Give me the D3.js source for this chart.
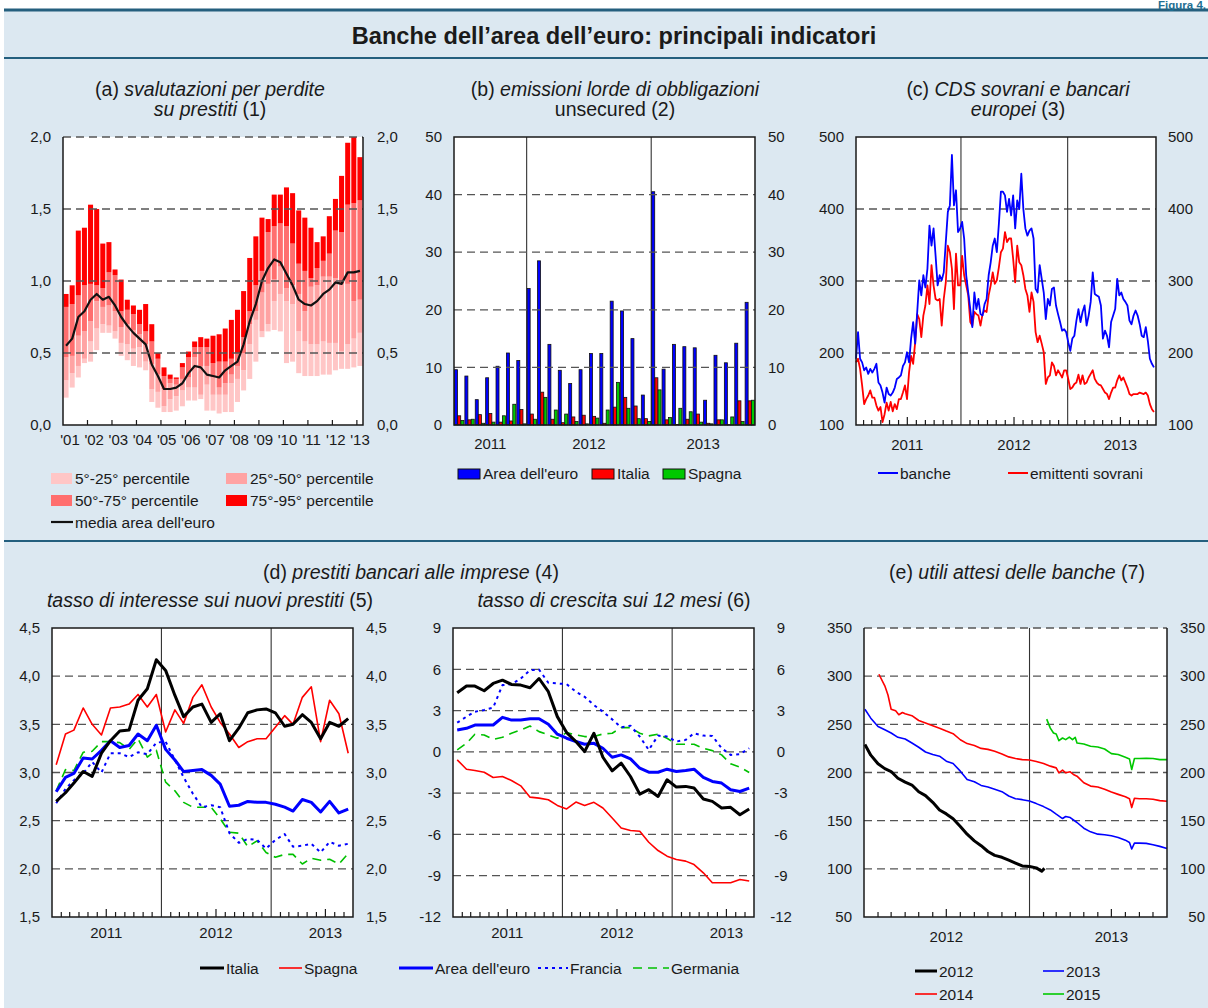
<!DOCTYPE html>
<html>
<head>
<meta charset="utf-8">
<title>Banche dell'area dell'euro: principali indicatori</title>
<script src="https://cdn.jsdelivr.net/npm/d3@7"></script>
<style>
  body { margin: 0; background: #fff; }
  svg { display: block; font-family: "Liberation Sans", Arial, Helvetica, sans-serif; }
</style>
</head>
<body>
<svg id="chart" width="1208" height="1008"></svg>
<script>
// ---------- (a) svalutazioni per perdite su prestiti: quarterly 2001Q1-2013Q1 ----------
const aYearLabels = ["'01", "'02", "'03", "'04", "'05", "'06", "'07", "'08", "'09", "'10", "'11", "'12", "'13"];
const aP5 = [0.19, 0.26, 0.33, 0.43, 0.44, 0.52, 0.64, 0.64, 0.60, 0.48, 0.45, 0.41, 0.40, 0.38, 0.16, 0.12, 0.09, 0.09, 0.10, 0.13, 0.17, 0.17, 0.18, 0.10, 0.10, 0.08, 0.09, 0.09, 0.16, 0.24, 0.32, 0.44, 0.61, 0.65, 0.66, 0.65, 0.43, 0.44, 0.36, 0.34, 0.34, 0.34, 0.35, 0.35, 0.38, 0.39, 0.39, 0.40, 0.41];
const aP25 = [0.31, 0.36, 0.41, 0.46, 0.58, 0.67, 0.70, 0.69, 0.65, 0.57, 0.56, 0.53, 0.54, 0.44, 0.25, 0.23, 0.13, 0.18, 0.20, 0.24, 0.26, 0.26, 0.21, 0.28, 0.21, 0.21, 0.21, 0.29, 0.32, 0.38, 0.56, 0.73, 0.65, 0.70, 0.86, 0.91, 0.86, 0.84, 0.65, 0.58, 0.56, 0.56, 0.58, 0.57, 0.57, 0.51, 0.56, 0.60, 0.64];
const aP50 = [0.47, 0.48, 0.62, 0.65, 0.72, 0.86, 0.82, 0.83, 0.79, 0.68, 0.70, 0.66, 0.63, 0.56, 0.42, 0.35, 0.25, 0.29, 0.28, 0.32, 0.33, 0.47, 0.41, 0.41, 0.33, 0.26, 0.29, 0.35, 0.41, 0.50, 0.70, 0.79, 0.92, 0.98, 1.01, 1.10, 0.95, 0.97, 0.91, 0.79, 0.96, 0.97, 1.03, 1.03, 1.02, 0.98, 0.98, 0.86, 0.87];
const aP75 = [0.82, 0.84, 0.90, 0.97, 0.98, 0.97, 0.95, 1.06, 1.04, 0.79, 0.80, 0.77, 0.70, 0.65, 0.58, 0.46, 0.34, 0.32, 0.32, 0.40, 0.47, 0.54, 0.54, 0.54, 0.43, 0.44, 0.44, 0.46, 0.50, 0.61, 0.79, 0.97, 1.07, 1.34, 1.38, 1.40, 1.38, 1.26, 1.12, 1.07, 1.02, 1.09, 1.14, 1.19, 1.35, 1.34, 1.53, 1.54, 1.56];
const aP95 = [0.91, 0.97, 1.35, 1.37, 1.53, 1.50, 1.26, 1.27, 1.08, 1.01, 0.87, 0.83, 0.80, 0.84, 0.70, 0.50, 0.40, 0.35, 0.33, 0.43, 0.51, 0.58, 0.61, 0.60, 0.62, 0.63, 0.67, 0.73, 0.80, 0.93, 1.16, 1.31, 1.44, 1.43, 1.60, 1.60, 1.65, 1.61, 1.49, 1.44, 1.37, 1.27, 1.31, 1.45, 1.57, 1.73, 1.96, 2.00, 1.86];
const aMean = [0.55, 0.60, 0.75, 0.79, 0.87, 0.91, 0.87, 0.89, 0.83, 0.75, 0.69, 0.64, 0.60, 0.56, 0.42, 0.34, 0.25, 0.25, 0.26, 0.29, 0.36, 0.41, 0.40, 0.35, 0.34, 0.33, 0.38, 0.41, 0.44, 0.56, 0.72, 0.84, 1.00, 1.09, 1.15, 1.13, 1.05, 0.97, 0.87, 0.84, 0.83, 0.86, 0.91, 0.94, 0.99, 0.98, 1.06, 1.06, 1.07];

// ---------- (b) emissioni lorde di obbligazioni unsecured: monthly ----------
const bMonths = ["2011-06", "2011-07", "2011-08", "2011-09", "2011-10", "2011-11", "2011-12",
  "2012-01", "2012-02", "2012-03", "2012-04", "2012-05", "2012-06", "2012-07", "2012-08", "2012-09", "2012-10", "2012-11", "2012-12",
  "2013-01", "2013-02", "2013-03", "2013-04", "2013-05", "2013-06", "2013-07", "2013-08", "2013-09", "2013-10"];
const bArea = [9.6, 8.5, 4.4, 8.2, 10.2, 12.5, 11.2, 23.7, 28.5, 14.0, 9.5, 7.2, 9.6, 12.4, 12.4, 21.5, 19.8, 15.0, 5.2, 40.5, 9.7, 14.0, 13.6, 13.4, 4.3, 12.1, 10.8, 14.2, 21.3];
const bItalia = [1.6, 0.9, 1.8, 2.0, 0.5, 0.7, 2.7, 1.9, 5.7, 1.0, 0.4, 1.4, 1.7, 1.5, 0.3, 3.1, 4.8, 3.3, 1.1, 8.2, 0.9, 0.1, 1.0, 1.9, 0.3, 0.9, 0.05, 4.2, 4.2];
const bSpagna = [0.8, 1.0, 0.3, 0.5, 1.6, 3.6, 0.2, 1.0, 4.8, 2.6, 1.9, 0.6, 0.2, 1.2, 2.6, 7.4, 2.9, 1.1, 0.6, 6.1, 1.3, 2.9, 2.3, 0.5, 0.2, 0.9, 1.4, 0.6, 4.3];

// ---------- (c) CDS sovrani e bancari europei: weekly from 6 Jan 2011 ----------
const cStart = "2011-01-06";
const cBanche = [192, 229, 192, 187, 176, 180, 171, 178, 173, 178,
  185, 159, 155, 145, 131, 152, 143, 141, 145, 152,
  164, 166, 169, 182, 187, 201, 187, 220, 243, 213,
  257, 301, 280, 308, 291, 317, 377, 349, 373, 335,
  294, 308, 301, 312, 354, 396, 405, 475, 405, 426,
  368, 373, 382, 359, 308, 284, 261, 236, 284, 261,
  275, 254, 252, 268, 275, 308, 326, 349, 359, 340,
  379, 424, 424, 419, 396, 414, 391, 419, 373, 412,
  400, 449, 400, 373, 363, 370, 373, 359, 289, 284,
  322, 303, 284, 247, 275, 266, 289, 291, 266, 254,
  243, 231, 233, 229, 215, 203, 220, 224, 245, 261,
  243, 257, 266, 238, 252, 271, 312, 282, 280, 278,
  266, 220, 231, 224, 208, 243, 252, 261, 303, 280,
  284, 275, 271, 266, 245, 240, 252, 259, 252, 240,
  224, 222, 236, 217, 192, 185, 180];
const cSovrani = [187, 192, 178, 155, 129, 136, 141, 148, 138, 138,
  127, 120, 125, 104, 115, 131, 120, 132, 119, 129,
  122, 136, 136, 145, 155, 136, 173, 196, 185, 215,
  254, 247, 222, 252, 266, 294, 268, 322, 294, 275,
  273, 275, 238, 275, 298, 349, 340, 317, 261, 338,
  294, 294, 335, 308, 294, 280, 243, 238, 257, 254,
  252, 238, 254, 259, 257, 280, 294, 312, 296, 301,
  319, 340, 345, 368, 354, 359, 359, 331, 298, 349,
  326, 322, 308, 289, 280, 257, 284, 271, 229, 215,
  224, 213, 201, 157, 166, 169, 187, 182, 169, 176,
  171, 166, 176, 176, 164, 150, 152, 157, 159, 170,
  157, 169, 157, 159, 166, 171, 176, 164, 159, 156,
  155, 150, 145, 143, 136, 145, 152, 152, 162, 169,
  162, 166, 159, 152, 143, 141, 143, 143, 143, 145,
  144, 143, 145, 141, 129, 122, 118];

// ---------- (d) prestiti bancari alle imprese: monthly Jan 2011 - Sep 2013 ----------
const dMonths = ["2011-01", "2011-02", "2011-03", "2011-04", "2011-05", "2011-06", "2011-07", "2011-08", "2011-09", "2011-10", "2011-11", "2011-12",
  "2012-01", "2012-02", "2012-03", "2012-04", "2012-05", "2012-06", "2012-07", "2012-08", "2012-09", "2012-10", "2012-11", "2012-12",
  "2013-01", "2013-02", "2013-03", "2013-04", "2013-05", "2013-06", "2013-07", "2013-08", "2013-09"];
const rateItalia = [2.70, 2.79, 2.89, 3.01, 2.96, 3.20, 3.33, 3.43, 3.44, 3.75, 3.87, 4.17, 4.06, 3.80, 3.58, 3.68, 3.71, 3.52, 3.61, 3.33, 3.46, 3.62, 3.65, 3.66, 3.62, 3.48, 3.50, 3.60, 3.52, 3.35, 3.52, 3.48, 3.56];
const rateSpagna = [3.08, 3.40, 3.44, 3.67, 3.50, 3.39, 3.67, 3.68, 3.71, 3.81, 3.68, 3.81, 3.42, 3.65, 3.51, 3.78, 3.91, 3.68, 3.52, 3.40, 3.26, 3.32, 3.35, 3.35, 3.47, 3.59, 3.50, 3.78, 3.89, 3.32, 3.75, 3.61, 3.20];
const rateArea = [2.80, 2.95, 2.99, 3.15, 3.14, 3.23, 3.33, 3.26, 3.28, 3.40, 3.33, 3.49, 3.24, 3.13, 3.01, 3.02, 3.03, 2.97, 2.88, 2.65, 2.66, 2.70, 2.69, 2.69, 2.67, 2.64, 2.60, 2.72, 2.69, 2.59, 2.70, 2.58, 2.62];
const rateFrancia = [2.68, 2.83, 2.92, 2.99, 3.11, 3.00, 3.20, 3.20, 3.16, 3.21, 3.19, 3.31, 3.32, 3.13, 2.95, 2.78, 2.64, 2.66, 2.64, 2.37, 2.27, 2.31, 2.30, 2.21, 2.30, 2.36, 2.23, 2.24, 2.26, 2.17, 2.28, 2.24, 2.26];
const rateGermania = [2.81, 3.03, 3.02, 3.21, 3.22, 3.32, 3.32, 3.31, 3.24, 3.35, 3.16, 3.23, 2.90, 2.81, 2.69, 2.64, 2.64, 2.64, 2.52, 2.38, 2.37, 2.23, 2.29, 2.17, 2.12, 2.15, 2.15, 2.05, 2.11, 2.09, 2.10, 2.05, 2.16];
const growItalia = [4.29, 4.78, 4.78, 4.44, 4.97, 5.21, 4.90, 4.85, 4.66, 5.33, 4.37, 2.56, 1.40, 0.75, 0.02, 1.35, -0.39, -1.38, -0.82, -1.79, -3.07, -2.75, -3.24, -2.03, -2.56, -2.51, -2.63, -3.43, -3.60, -4.08, -4.03, -4.57, -4.15];
const growSpagna = [-0.58, -1.26, -1.35, -1.48, -1.86, -1.79, -2.08, -2.47, -3.29, -3.36, -3.48, -3.89, -4.15, -3.65, -3.89, -3.67, -4.08, -4.81, -5.53, -5.72, -5.77, -6.57, -7.17, -7.58, -7.82, -7.94, -8.19, -8.79, -9.51, -9.51, -9.51, -9.27, -9.39];
const growArea = [1.59, 1.71, 1.95, 1.95, 1.95, 2.51, 2.31, 2.31, 2.41, 2.41, 2.00, 1.28, 0.99, 0.75, 0.55, 0.62, 0.26, -0.39, -0.22, -0.51, -1.19, -1.48, -1.48, -1.26, -1.43, -1.35, -1.26, -1.86, -2.15, -2.27, -2.75, -2.88, -2.63];
const growFrancia = [2.12, 2.56, 2.92, 3.04, 3.21, 4.85, 4.92, 5.33, 5.93, 5.98, 5.02, 4.97, 4.92, 4.37, 4.00, 3.40, 2.92, 2.36, 1.78, 1.90, 1.11, 0.14, 1.18, 1.11, 0.75, 0.87, 1.35, 1.18, 1.16, 0.26, -0.22, -0.17, 0.26];
const growGermania = [0.14, 0.62, 1.28, 1.23, 0.91, 1.06, 1.35, 1.59, 1.88, 1.47, 1.23, 0.99, 1.40, 1.23, 1.11, 1.11, 1.30, 1.35, 1.76, 1.76, 1.35, 1.16, 1.28, 0.99, 0.55, 0.55, 0.55, 0.26, 0.09, -0.22, -0.87, -1.11, -1.50];

// ---------- (e) utili attesi delle banche: forecasts for 2012-2015 ----------
const e2012 = [["2012-01-03", 229], ["2012-01-16", 218], ["2012-02-01", 209], ["2012-02-16", 204], ["2012-03-01", 201], ["2012-03-16", 194], ["2012-04-01", 190], ["2012-04-16", 187], ["2012-05-01", 180], ["2012-05-16", 176], ["2012-06-01", 169], ["2012-06-16", 161], ["2012-07-01", 157], ["2012-07-16", 152], ["2012-08-01", 144], ["2012-08-16", 136], ["2012-09-01", 129], ["2012-09-16", 124], ["2012-10-01", 118], ["2012-10-16", 114], ["2012-11-01", 112], ["2012-11-16", 109], ["2012-12-01", 106], ["2012-12-16", 103], ["2013-01-01", 102.5], ["2013-01-16", 101], ["2013-01-28", 97.5], ["2013-02-03", 100.5]];
const e2013 = [["2012-01-03", 265.7], ["2012-01-16", 256.4], ["2012-02-01", 247.8], ["2012-02-16", 244.4], ["2012-03-01", 241], ["2012-03-16", 236.5], ["2012-04-01", 234.8], ["2012-04-16", 230.6], ["2012-05-01", 226.2], ["2012-05-16", 221.3], ["2012-06-01", 218.6], ["2012-06-16", 216.9], ["2012-07-01", 211.7], ["2012-07-16", 209.3], ["2012-08-01", 201.4], ["2012-08-16", 192.8], ["2012-09-01", 190.4], ["2012-09-16", 186.6], ["2012-10-01", 184.9], ["2012-10-16", 182.5], ["2012-11-01", 180.1], ["2012-11-16", 175.6], ["2012-12-01", 172.8], ["2012-12-16", 171.8], ["2013-01-01", 170.4], ["2013-01-16", 167.7], ["2013-02-01", 164.6], ["2013-02-16", 161.1], ["2013-03-01", 156.7], ["2013-03-15", 152.2], ["2013-03-22", 154.3], ["2013-04-01", 153.2], ["2013-04-16", 148.1], ["2013-05-01", 142.2], ["2013-05-16", 138.4], ["2013-06-01", 136], ["2013-06-16", 135.4], ["2013-07-01", 134.3], ["2013-07-16", 132.6], ["2013-08-01", 129.8], ["2013-08-10", 127.4], ["2013-08-15", 120.6], ["2013-08-21", 126.7], ["2013-09-01", 126.7], ["2013-09-16", 126.4], ["2013-10-01", 125], ["2013-10-16", 123.3], ["2013-11-01", 121.2]];
const e2014 = [["2012-02-03", 302], ["2012-02-16", 290], ["2012-02-23", 280.5], ["2012-03-01", 265.7], ["2012-03-11", 264], ["2012-03-18", 260], ["2012-03-26", 262.3], ["2012-04-01", 261], ["2012-04-16", 259], ["2012-05-01", 254], ["2012-05-16", 251.3], ["2012-06-01", 248.5], ["2012-06-16", 246], ["2012-07-01", 243], ["2012-07-16", 240.3], ["2012-08-01", 234], ["2012-08-16", 230], ["2012-09-01", 228], ["2012-09-16", 225], ["2012-10-01", 224], ["2012-10-16", 222], ["2012-11-01", 219.3], ["2012-11-16", 216.2], ["2012-12-01", 214.5], ["2012-12-16", 213.4], ["2013-01-01", 213], ["2013-01-16", 211.4], ["2013-02-01", 209.3], ["2013-02-16", 206.6], ["2013-03-01", 204.8], ["2013-03-07", 199.7], ["2013-03-15", 202.4], ["2013-03-22", 199.7], ["2013-04-01", 200.7], ["2013-04-08", 198], ["2013-04-16", 196.2], ["2013-05-01", 189.4], ["2013-05-16", 185.9], ["2013-06-01", 184.9], ["2013-06-16", 182.5], ["2013-07-01", 179.7], ["2013-07-16", 177.3], ["2013-08-01", 174.9], ["2013-08-10", 172.8], ["2013-08-15", 163.6], ["2013-08-21", 173.2], ["2013-09-01", 172.8], ["2013-09-16", 172.8], ["2013-10-01", 172.2], ["2013-10-16", 170.8], ["2013-11-01", 170.1]];
const e2015 = [["2013-02-08", 255.4], ["2013-02-16", 246.1], ["2013-02-23", 241], ["2013-03-01", 240], ["2013-03-07", 233], ["2013-03-15", 235.8], ["2013-03-22", 234.1], ["2013-03-30", 236.8], ["2013-04-06", 234.1], ["2013-04-12", 236.5], ["2013-04-16", 230.6], ["2013-05-01", 229.6], ["2013-05-16", 227.2], ["2013-06-01", 226.5], ["2013-06-16", 224.4], ["2013-07-01", 219.6], ["2013-07-16", 218.6], ["2013-08-01", 215.8], ["2013-08-10", 214.1], ["2013-08-15", 203.1], ["2013-08-21", 214.5], ["2013-09-01", 214.5], ["2013-09-16", 214.8], ["2013-10-01", 214.5], ["2013-10-16", 213.4], ["2013-11-01", 213.4]];

// ---------- setup ----------
const svg = d3.select("#chart");
const ink = "#1a1a1a";
const teal = "#245f7e";
const parseDay = d3.timeParse("%Y-%m-%d");
const parseMonth = d3.timeParse("%Y-%m");
const itLocale = d3.formatLocale({ decimal: ",", thousands: ".", grouping: [3], currency: ["€", ""], minus: "-" });
const fmtDec = itLocale.format(".1f");
const fmtInt = itLocale.format("d");

// page background, rules, title
svg.append("rect").attr("x", 4).attr("y", 10).attr("width", 1204).attr("height", 998).attr("fill", "#dce8f1");
[[10, 3], [58, 2], [541, 2]].forEach(([y, w]) =>
  svg.append("line").attr("x1", 4).attr("x2", 1208).attr("y1", y).attr("y2", y)
    .attr("stroke", teal).attr("stroke-width", w));
svg.append("text").attr("x", 1206).attr("y", 8.5).attr("text-anchor", "end")
  .attr("font-size", 11.5).attr("font-weight", "bold").attr("fill", "#1f6f93").text("Figura 4.");
svg.append("text").attr("x", 614).attr("y", 44).attr("text-anchor", "middle")
  .attr("font-size", 23.6).attr("font-weight", "bold").attr("fill", ink)
  .text("Banche dell’area dell’euro: principali indicatori");

function title(x, y, parts) {
  const t = svg.append("text").attr("x", x).attr("y", y).attr("text-anchor", "middle")
    .attr("font-size", 19.5).attr("fill", ink);
  parts.forEach(([s, italic]) => t.append("tspan").attr("font-style", italic ? "italic" : null).text(s));
}

// white plot box, dashed grid, frame and both value axes
function panel(p) {
  const root = svg.append("g");
  root.append("rect").attr("x", p.x0).attr("y", p.y0)
    .attr("width", p.x1 - p.x0).attr("height", p.y1 - p.y0).attr("fill", "#fff");
  const under = root.append("g"), marks = root.append("g"), over = root.append("g");
  const y = d3.scaleLinear().domain(p.domain).range([p.y1, p.y0]);
  const ticks = d3.range(p.domain[0], p.domain[1] + p.step / 2, p.step);
  const gridVals = ticks.filter(v => v > p.domain[0] && (p.dashedTop || v < p.domain[1] - 1e-9));
  (p.gridOnTop ? over : under).selectAll(null).data(gridVals).join("line")
    .attr("x1", p.x0).attr("x2", p.x1).attr("y1", d => y(d)).attr("y2", d => y(d))
    .attr("stroke", "#555").attr("stroke-width", 1.3).attr("stroke-dasharray", "8,5");
  const framePath = `M${p.x0},${p.y0}V${p.y1}H${p.x1}V${p.y0}` + (p.dashedTop ? "" : "Z");
  root.append("path").attr("d", framePath).attr("fill", "none")
    .attr("stroke", ink).attr("stroke-width", 1.5);
  const lab = root.append("g").attr("font-size", 15).attr("fill", ink);
  lab.selectAll(null).data(ticks).join("text")
    .attr("x", p.x0 - 12).attr("y", d => y(d)).attr("dy", "0.35em")
    .attr("text-anchor", "end").text(p.fmt);
  lab.selectAll(null).data(ticks).join("text")
    .attr("x", p.rightX).attr("y", d => y(d)).attr("dy", "0.35em")
    .attr("text-anchor", p.rightAnchor || "start").text(p.fmt);
  return { root, under, marks, over, y };
}

function yearLines(g, xs, p) {
  g.selectAll(null).data(xs).join("line")
    .attr("x1", d => d).attr("x2", d => d).attr("y1", p.y0).attr("y2", p.y1)
    .attr("stroke", "#333").attr("stroke-width", 1.1);
}

function monthTicks(g, x, p) {
  const [from, to] = x.domain();
  const months = d3.timeMonth.range(from, to).filter(d => d > from && d.getMonth() !== 0);
  g.selectAll(null).data(months).join("line")
    .attr("x1", d => x(d)).attr("x2", d => x(d))
    .attr("y1", p.y1).attr("y2", d => p.y1 - (d.getMonth() === 6 ? 8 : 5))
    .attr("stroke", ink).attr("stroke-width", 1.2);
}

function xLabels(items, y) {
  svg.append("g").attr("font-size", 15).attr("fill", ink).attr("text-anchor", "middle")
    .selectAll("text").data(items).join("text")
    .attr("x", d => d.x).attr("y", y).text(d => d.label);
}

function lineLegend(x, y, w, style, label) {
  svg.append("line").attr("x1", x).attr("x2", x + w).attr("y1", y).attr("y2", y)
    .attr("stroke", style.color).attr("stroke-width", style.width)
    .attr("stroke-dasharray", style.dash || null);
  svg.append("text").attr("x", x + w + 2).attr("y", y + 5.5).attr("font-size", 15.5)
    .attr("fill", ink).text(label);
}

function boxLegend(x, y, w, h, color, label, stroke) {
  svg.append("rect").attr("x", x).attr("y", y).attr("width", w).attr("height", h)
    .attr("fill", color).attr("stroke", stroke || "none").attr("stroke-width", 1);
  svg.append("text").attr("x", x + w + 3).attr("y", y + h).attr("font-size", 15.5)
    .attr("fill", ink).text(label);
}

// ---------- panel titles ----------
title(210, 96, [["(a) ", false], ["svalutazioni per perdite", true]]);
title(210, 116, [["su prestiti", true], [" (1)", false]]);
title(615, 96, [["(b) ", false], ["emissioni lorde di obbligazioni", true]]);
title(615, 116, [["unsecured (2)", false]]);
title(1018, 96, [["(c) ", false], ["CDS sovrani e bancari", true]]);
title(1018, 116, [["europei", true], [" (3)", false]]);
title(411, 579, [["(d) ", false], ["prestiti bancari alle imprese", true], [" (4)", false]]);
title(210, 607, [["tasso di interesse sui nuovi prestiti", true], [" (5)", false]]);
title(614, 607, [["tasso di crescita sui 12 mesi", true], [" (6)", false]]);
title(1017, 579, [["(e) ", false], ["utili attesi delle banche", true], [" (7)", false]]);

// ---------- (a) ----------
const pa = { x0: 63, x1: 363, y0: 137, y1: 425, domain: [0, 2], step: 0.5, fmt: fmtDec, rightX: 377, dashedTop: true, gridOnTop: true };
const A = panel(pa);
const xa = d3.scaleBand().domain(d3.range(aP95.length)).range([pa.x0, pa.x1]).paddingInner(0.18).paddingOuter(0.09);
const aBands = [
  { lo: aP5, hi: aP25, color: "#ffc6c6", label: "5°-25° percentile" },
  { lo: aP25, hi: aP50, color: "#ffa3a3", label: "25°-50° percentile" },
  { lo: aP50, hi: aP75, color: "#ff6e6e", label: "50°-75° percentile" },
  { lo: aP75, hi: aP95, color: "#ff0000", label: "75°-95° percentile" }
];
aBands.forEach(b => A.marks.append("g").selectAll("rect").data(b.lo).join("rect")
  .attr("x", (d, i) => xa(i)).attr("width", xa.bandwidth())
  .attr("y", (d, i) => A.y(b.hi[i])).attr("height", (d, i) => A.y(d) - A.y(b.hi[i]))
  .attr("fill", b.color));
A.marks.append("path").datum(aMean)
  .attr("d", d3.line().x((d, i) => xa(i) + xa.bandwidth() / 2).y(d => A.y(d)))
  .attr("fill", "none").attr("stroke", "#111").attr("stroke-width", 2.2).attr("stroke-linejoin", "round");
const aYearStarts = d3.range(4, aP95.length, 4);
A.over.selectAll(null).data(aYearStarts).join("line")
  .attr("x1", i => xa(i) - xa.step() * 0.09).attr("x2", i => xa(i) - xa.step() * 0.09)
  .attr("y1", pa.y1).attr("y2", pa.y1 - 5).attr("stroke", ink).attr("stroke-width", 1.2);
const xaLab = d3.scalePoint().domain(aYearLabels).range([70, 360]);
xLabels(aYearLabels.map(l => ({ x: xaLab(l), label: l })), 445);
boxLegend(51, 473, 21, 11, aBands[0].color, aBands[0].label);
boxLegend(226, 473, 21, 11, aBands[1].color, aBands[1].label);
boxLegend(51, 495, 21, 11, aBands[2].color, aBands[2].label);
boxLegend(226, 495, 21, 11, aBands[3].color, aBands[3].label);
lineLegend(51, 522, 22, { color: "#111", width: 2.2 }, "media area dell'euro");

// ---------- (b) ----------
const pb = { x0: 454, x1: 755, y0: 137, y1: 425, domain: [0, 50], step: 10, fmt: fmtInt, rightX: 768, gridOnTop: true };
const B = panel(pb);
const xb = d3.scaleBand().domain(bMonths).range([pb.x0, pb.x1]);
const bSeries = [
  { key: "area", values: bArea, color: "#0000ff", label: "Area dell'euro" },
  { key: "italia", values: bItalia, color: "#ff0000", label: "Italia" },
  { key: "spagna", values: bSpagna, color: "#00c800", label: "Spagna" }
];
const xbSub = d3.scaleBand().domain(bSeries.map(s => s.key)).range([0.5, xb.bandwidth() - 0.5]).paddingInner(0.06);
bSeries.forEach(s => B.marks.append("g").selectAll("rect").data(s.values).join("rect")
  .attr("x", (d, i) => xb(bMonths[i]) + xbSub(s.key)).attr("width", xbSub.bandwidth())
  .attr("y", d => B.y(d)).attr("height", d => B.y(0) - B.y(d))
  .attr("fill", s.color).attr("stroke", "#111").attr("stroke-width", 0.8));
yearLines(B.under, bMonths.filter((m, i) => i > 0 && m.endsWith("-01")).map(m => xb(m)), pb);
xLabels(["2011", "2012", "2013"].map(yr => ({
  label: yr,
  x: d3.mean(bMonths.filter(m => m.startsWith(yr)), m => xb(m) + xb.bandwidth() / 2)
})), 449);
boxLegend(458, 469, 22, 10, bSeries[0].color, bSeries[0].label, "#111");
boxLegend(592, 469, 22, 10, bSeries[1].color, bSeries[1].label, "#111");
boxLegend(663, 469, 22, 10, bSeries[2].color, bSeries[2].label, "#111");

// ---------- (c) ----------
const pc = { x0: 856, x1: 1156, y0: 137, y1: 425, domain: [100, 500], step: 100, fmt: fmtInt, rightX: 1168 };
const C = panel(pc);
const xc = d3.scaleTime().domain([parseDay("2011-01-06"), parseDay("2013-10-31")]).range([pc.x0, pc.x1]);
yearLines(C.under, [parseDay("2012-01-01"), parseDay("2013-01-01")].map(d => xc(d)), pc);
monthTicks(C.over, xc, pc);
const cDate = i => d3.timeDay.offset(parseDay(cStart), 7 * i);
const cLine = d3.line().x((d, i) => xc(cDate(i))).y(d => C.y(d)).curve(d3.curveLinear);
[[cSovrani, "#ff0000"], [cBanche, "#0000ff"]].forEach(([vals, col]) =>
  C.marks.append("path").datum(vals).attr("d", cLine).attr("fill", "none")
    .attr("stroke", col).attr("stroke-width", 1.8).attr("stroke-linejoin", "round"));
xLabels(["2011", "2012", "2013"].map(yr => ({ label: yr, x: xc(parseDay(yr + "-07-01")) })), 450);
lineLegend(878, 473, 20, { color: "#0000ff", width: 2 }, "banche");
lineLegend(1008, 473, 20, { color: "#ff0000", width: 2 }, "emittenti sovrani");

// ---------- (d) ----------
const dStyles = {
  Italia: { color: "#000", width: 3 },
  Spagna: { color: "#ff0000", width: 1.6 },
  Area: { color: "#0000ff", width: 3 },
  Francia: { color: "#0000ff", width: 2, dash: "3,4" },
  Germania: { color: "#00c000", width: 1.6, dash: "9,6" }
};
const dDomain = [parseMonth("2011-01"), parseMonth("2013-10")];
const dMid = m => d3.timeDay.offset(parseMonth(m), 14);
function drawD(p, series) {
  const P = panel(p);
  const x = d3.scaleTime().domain(dDomain).range([p.x0, p.x1]);
  yearLines(P.under, [parseDay("2012-01-01"), parseDay("2013-01-01")].map(d => x(d)), p);
  monthTicks(P.over, x, p);
  const line = d3.line().x((d, i) => x(dMid(dMonths[i]))).y(d => P.y(d));
  series.forEach(([vals, key]) => {
    const s = dStyles[key];
    P.marks.append("path").datum(vals).attr("d", line).attr("fill", "none")
      .attr("stroke", s.color).attr("stroke-width", s.width)
      .attr("stroke-dasharray", s.dash || null).attr("stroke-linejoin", "round");
  });
  xLabels(["2011", "2012", "2013"].map(yr => ({ label: yr, x: x(parseDay(yr + "-07-01")) })), 938);
}
drawD({ x0: 52, x1: 353, y0: 628, y1: 917, domain: [1.5, 4.5], step: 0.5, fmt: fmtDec, rightX: 366 },
  [[rateGermania, "Germania"], [rateFrancia, "Francia"], [rateSpagna, "Spagna"], [rateArea, "Area"], [rateItalia, "Italia"]]);
drawD({ x0: 453, x1: 754, y0: 628, y1: 917, domain: [-12, 9], step: 3, fmt: fmtInt, rightX: 781, rightAnchor: "middle" },
  [[growGermania, "Germania"], [growFrancia, "Francia"], [growSpagna, "Spagna"], [growArea, "Area"], [growItalia, "Italia"]]);
lineLegend(200, 968, 24, dStyles.Italia, "Italia");
lineLegend(279, 968, 23, dStyles.Spagna, "Spagna");
lineLegend(399, 968, 34, dStyles.Area, "Area dell'euro");
lineLegend(538, 968, 30, dStyles.Francia, " Francia");
lineLegend(633, 968, 36, dStyles.Germania, "Germania");

// ---------- (e) ----------
const pe = { x0: 864, x1: 1167, y0: 628, y1: 917, domain: [50, 350], step: 50, fmt: fmtInt, rightX: 1205, rightAnchor: "end", dashedTop: true };
const E = panel(pe);
const xe = d3.scaleTime().domain([parseDay("2012-01-01"), parseDay("2013-11-01")]).range([pe.x0, pe.x1]);
yearLines(E.under, [xe(parseDay("2013-01-01"))], pe);
monthTicks(E.over, xe, pe);
const eLine = d3.line().x(d => xe(parseDay(d[0]))).y(d => E.y(d[1]));
const eSeries = [
  { data: e2015, color: "#00c800", width: 1.6, label: "2015" },
  { data: e2014, color: "#ff0000", width: 1.6, label: "2014" },
  { data: e2013, color: "#0000ff", width: 1.6, label: "2013" },
  { data: e2012, color: "#000", width: 3, label: "2012" }
];
eSeries.forEach(s => E.marks.append("path").datum(s.data).attr("d", eLine).attr("fill", "none")
  .attr("stroke", s.color).attr("stroke-width", s.width).attr("stroke-linejoin", "round"));
xLabels(["2012", "2013"].map(yr => ({ label: yr, x: xe(parseDay(yr + "-07-01")) })), 942);
lineLegend(915, 971, 22, eSeries[3], "2012");
lineLegend(1043, 971, 21, eSeries[2], "2013");
lineLegend(915, 994, 22, eSeries[1], "2014");
lineLegend(1043, 994, 21, eSeries[0], "2015");
</script>
</body>
</html>
